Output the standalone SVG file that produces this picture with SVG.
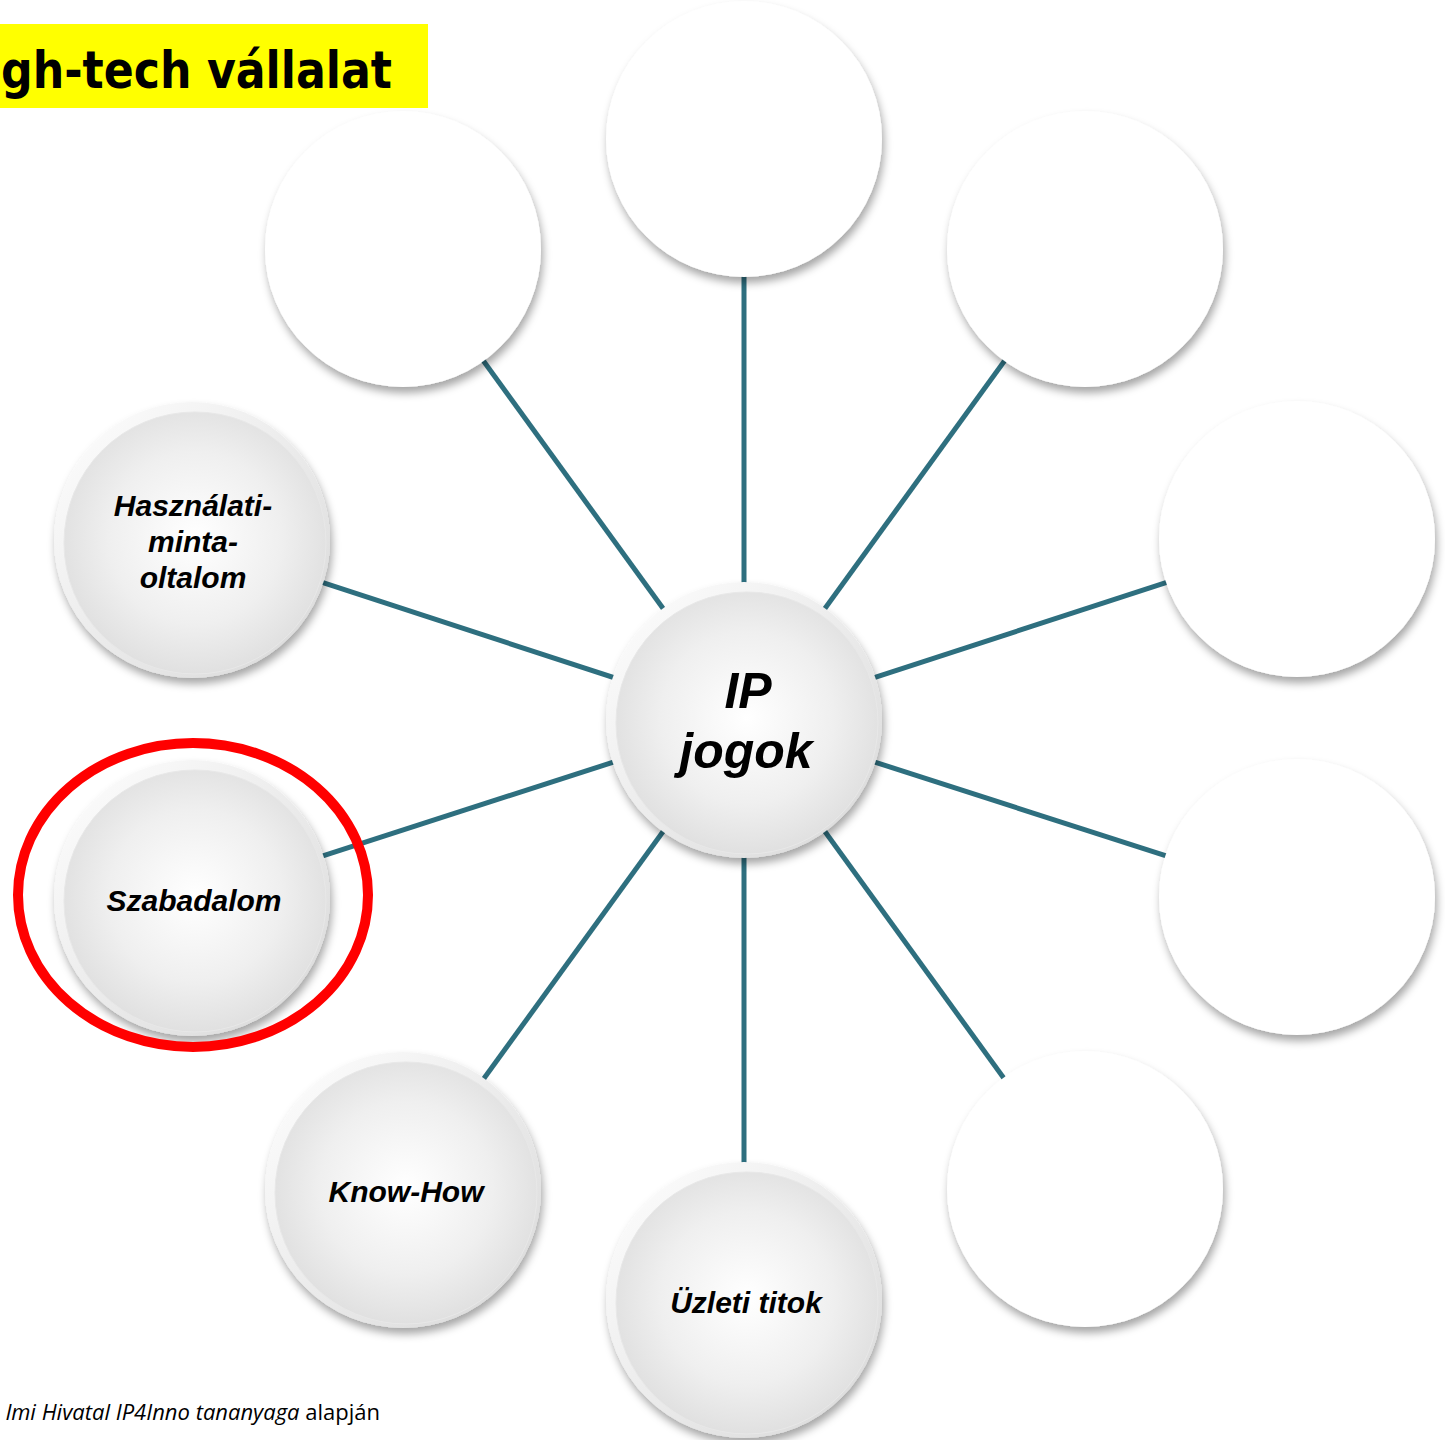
<svg xmlns="http://www.w3.org/2000/svg" width="1445" height="1440" viewBox="0 0 1445 1440">
<defs>
<filter id="sh" x="-20%" y="-20%" width="140%" height="140%">
<feDropShadow dx="2" dy="6" stdDeviation="4" flood-color="#000" flood-opacity="0.35"/>
</filter>
<radialGradient id="g" cx="50%" cy="48%" r="55%">
<stop offset="0" stop-color="#ffffff"/>
<stop offset="0.6" stop-color="#efefef"/>
<stop offset="1" stop-color="#dedede"/>
</radialGradient>
<linearGradient id="rim" x1="0" y1="0" x2="1" y2="1">
<stop offset="0" stop-color="#ffffff"/>
<stop offset="1" stop-color="#d8d8d8"/>
</linearGradient>
</defs>
<style>
.blank{fill:#fff;filter:url(#sh)}
.outer{fill:url(#rim);filter:url(#sh)}
.inner{fill:url(#g);stroke:#e8e8e8;stroke-width:1}
.lbl{font-family:"Liberation Sans",Arial,sans-serif;font-weight:bold;font-style:italic;font-size:30px;fill:#000;text-anchor:middle}
.con{stroke:#2E6F7F;stroke-width:5;fill:none}
</style>
<rect x="0" y="0" width="1445" height="1440" fill="#fff"/>
<g id="title">
<rect x="0" y="24" width="428" height="84" fill="#FFFF00"/>
<text x="1" y="88" font-family="'DejaVu Sans',Verdana,sans-serif" font-weight="bold" font-size="52" textLength="391" lengthAdjust="spacingAndGlyphs" fill="#000">gh-tech vállalat</text>
</g>
<g id="connectors">
<line class="con" x1="744" y1="720" x2="744" y2="140"/>
<line class="con" x1="744" y1="720" x2="403" y2="250"/>
<line class="con" x1="744" y1="720" x2="1085" y2="250"/>
<line class="con" x1="744" y1="720" x2="192" y2="540"/>
<line class="con" x1="744" y1="720" x2="1297" y2="540"/>
<line class="con" x1="744" y1="720" x2="192" y2="898"/>
<line class="con" x1="744" y1="720" x2="1297" y2="898"/>
<line class="con" x1="744" y1="720" x2="403" y2="1190"/>
<line class="con" x1="744" y1="720" x2="1085" y2="1190"/>
<line class="con" x1="744" y1="720" x2="744" y2="1300"/>
</g>
<g id="n-top"><circle class="blank" cx="744" cy="139" r="138"/></g>
<g id="n-topleft"><circle class="blank" cx="403" cy="249" r="138"/></g>
<g id="n-topright"><circle class="blank" cx="1085" cy="249" r="138"/></g>
<g id="n-rightupper"><circle class="blank" cx="1297" cy="539" r="138"/></g>
<g id="n-rightlower"><circle class="blank" cx="1297" cy="897" r="138"/></g>
<g id="n-bottomright"><circle class="blank" cx="1085" cy="1189" r="138"/></g>
<g id="n-hasznalati">
<circle class="outer" cx="192" cy="540" r="138"/>
<circle class="inner" cx="195" cy="543" r="131"/>
<text class="lbl" x="193" y="516">Használati-</text>
<text class="lbl" x="193" y="552">minta-</text>
<text class="lbl" x="193" y="588">oltalom</text>
</g>
<g id="n-szabadalom">
<circle class="outer" cx="192" cy="898" r="138"/>
<circle class="inner" cx="195" cy="901" r="131"/>
<text class="lbl" x="194" y="911">Szabadalom</text>
</g>
<g id="n-knowhow">
<circle class="outer" cx="403" cy="1190" r="138"/>
<circle class="inner" cx="406" cy="1193" r="131"/>
<text class="lbl" x="406" y="1202">Know-How</text>
</g>
<g id="n-uzleti">
<circle class="outer" cx="744" cy="1300" r="138"/>
<circle class="inner" cx="747" cy="1303" r="131"/>
<text class="lbl" x="746" y="1313">Üzleti titok</text>
</g>
<g id="n-center">
<circle class="outer" cx="744" cy="720" r="138"/>
<circle class="inner" cx="747" cy="723" r="131"/>
<text class="lbl" x="748" y="708" style="font-size:50px">IP</text>
<text class="lbl" x="746" y="768" style="font-size:50px">jogok</text>
</g>
<g id="highlight">
<ellipse cx="193" cy="895" rx="175" ry="152" fill="none" stroke="#FF0000" stroke-width="10"/>
</g>
<g id="source">
<text x="380" y="1420" font-family="'Open Sans','DejaVu Sans',sans-serif" font-size="22" text-anchor="end" fill="#000"><tspan font-style="italic">lmi Hivatal IP4Inno tananyaga</tspan> alapján</text>
</g>
</svg>
